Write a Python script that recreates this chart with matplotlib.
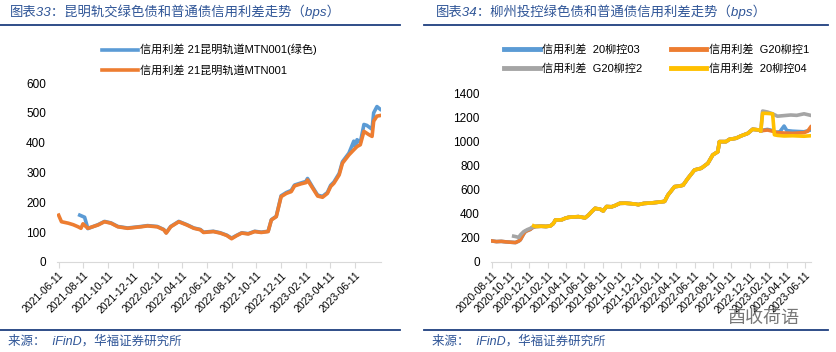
import matplotlib.pyplot as plt
import pandas as pd
from matplotlib.lines import Line2D

plt.rcParams['font.family'] = ['Liberation Sans', 'Noto Sans CJK SC', 'DejaVu Sans']

BLUE = '#5B9BD5'
ORANGE = '#ED7D31'
GRAY = '#A5A5A5'
YELLOW = '#FFC000'
NAVY = '#1F3F7F'
TITLE_C = '#2F5597'

# ---- chart 33: 昆明轨交 ----
km_plain_dates = ['2021-06-11', '2021-06-18', '2021-07-05', '2021-07-17', '2021-07-29', '2021-08-05',
                  '2021-08-10', '2021-08-22', '2021-09-16', '2021-10-02', '2021-10-18', '2021-11-04',
                  '2021-11-28', '2021-12-31', '2022-01-16', '2022-02-09', '2022-02-25', '2022-03-03',
                  '2022-03-14', '2022-04-03', '2022-04-23', '2022-05-10', '2022-05-26', '2022-06-03',
                  '2022-06-27', '2022-07-14', '2022-07-30', '2022-08-11', '2022-08-23', '2022-09-05',
                  '2022-09-21', '2022-10-07', '2022-10-23', '2022-11-09', '2022-11-17', '2022-11-29',
                  '2022-12-11', '2022-12-24', '2023-01-05', '2023-01-13', '2023-01-29', '2023-02-10',
                  '2023-02-14', '2023-02-27', '2023-03-11', '2023-03-23', '2023-04-04', '2023-04-12',
                  '2023-04-20', '2023-05-03', '2023-05-11', '2023-05-27', '2023-06-08', '2023-06-16',
                  '2023-06-24', '2023-07-03', '2023-07-15', '2023-07-23', '2023-07-27', '2023-08-04',
                  '2023-08-12']
km_plain_vals = [157, 135, 130, 125, 118, 113,
                 128, 113, 124, 135, 130, 118,
                 113, 118, 121, 118, 108, 97,
                 118, 135, 124, 113, 108, 99,
                 102, 97, 89, 78, 88, 97,
                 94, 102, 99, 102, 141, 152,
                 219, 230, 236, 255, 262, 266,
                 275, 247, 221, 217, 230, 253,
                 264, 292, 331, 359, 376, 387,
                 393, 438, 427, 421, 472, 489,
                 491]

km_green_dates = ['2021-08-02', '2021-08-14', '2021-08-22', '2021-09-16', '2021-10-02', '2021-10-18',
                  '2021-11-04', '2021-11-28', '2021-12-31', '2022-01-16', '2022-02-09', '2022-02-25',
                  '2022-03-03', '2022-03-14', '2022-04-03', '2022-04-23', '2022-05-10', '2022-05-26',
                  '2022-06-03', '2022-06-27', '2022-07-14', '2022-07-30', '2022-08-11', '2022-08-23',
                  '2022-09-05', '2022-09-21', '2022-10-07', '2022-10-23', '2022-11-09', '2022-11-17',
                  '2022-11-29', '2022-12-11', '2022-12-24', '2023-01-05', '2023-01-13', '2023-01-29',
                  '2023-02-10', '2023-02-14', '2023-02-27', '2023-03-11', '2023-03-23', '2023-04-04',
                  '2023-04-12', '2023-04-20', '2023-05-03', '2023-05-11', '2023-05-27', '2023-06-08',
                  '2023-06-12', '2023-06-16', '2023-06-24', '2023-07-03', '2023-07-10', '2023-07-23',
                  '2023-07-27', '2023-08-04', '2023-08-12']
km_green_vals = [157, 150, 112, 125, 136, 131,
                 119, 114, 119, 122, 119, 109,
                 98, 119, 136, 125, 114, 109,
                 100, 103, 98, 90, 80, 89,
                 98, 95, 103, 100, 103, 142,
                 153, 222, 233, 240, 258, 265,
                 270, 280, 250, 224, 220, 233,
                 257, 268, 297, 336, 365, 405,
                 385, 410, 400, 461, 458, 445,
                 500, 521, 512]

# ---- chart 34: 柳州投控 ----
lz_head_dates = ['2020-08-11', '2020-08-25', '2020-09-10', '2020-09-24', '2020-10-10', '2020-10-27',
                 '2020-11-07', '2020-11-12', '2020-11-23', '2020-11-29', '2020-12-15', '2020-12-21']
lz_head_vals = [175, 170, 172, 168, 165, 162, 175, 185, 235, 255, 272, 285]

lz_g2_head_dates = ['2020-10-21', '2020-10-27', '2020-11-07', '2020-11-12', '2020-11-23', '2020-12-05',
                    '2020-12-15', '2020-12-21']
lz_g2_head_vals = [215, 212, 205, 225, 253, 270, 280, 290]

lz_04_head_dates = ['2020-12-26']
lz_04_head_vals = [302]

lz_mid_dates = ['2021-01-01', '2021-01-20', '2021-02-05', '2021-02-19', '2021-03-01', '2021-03-08',
                '2021-03-29', '2021-04-10', '2021-04-20', '2021-05-05', '2021-05-23', '2021-06-14',
                '2021-06-25', '2021-07-06', '2021-07-17', '2021-08-03', '2021-08-13', '2021-08-24',
                '2021-09-10', '2021-09-21', '2021-10-07', '2021-10-25', '2021-11-10', '2021-11-26',
                '2021-12-07', '2021-12-25', '2022-01-19', '2022-02-10', '2022-03-04', '2022-03-15',
                '2022-04-06', '2022-04-20', '2022-05-04', '2022-05-20', '2022-06-11', '2022-07-03',
                '2022-07-25', '2022-08-10', '2022-08-27', '2022-09-01', '2022-09-23', '2022-10-04',
                '2022-10-26', '2022-11-11', '2022-12-04', '2022-12-20', '2023-01-11', '2023-01-16']
lz_mid_vals = [296, 298, 296, 300, 320, 350,
               352, 365, 372, 375, 378, 368,
               390, 420, 447, 440, 425, 462,
               460, 470, 489, 490, 487, 483,
               478, 488, 492, 498, 505, 558,
               628, 632, 640, 697, 767, 781,
               822, 892, 919, 1003, 1003, 1022,
               1031, 1050, 1072, 1106, 1100, 1090]

lz_03_tail_dates = ['2023-01-22', '2023-02-07', '2023-02-24', '2023-03-05', '2023-03-20', '2023-04-03',
                    '2023-04-12', '2023-05-01', '2023-06-08', '2023-06-30']
lz_03_tail_vals = [1098, 1105, 1095, 1080, 1085, 1133, 1095, 1090, 1085, 1100]

lz_g1_tail_dates = ['2023-01-22', '2023-02-07', '2023-02-24', '2023-03-12', '2023-04-03', '2023-05-01',
                    '2023-06-08', '2023-06-20', '2023-06-30']
lz_g1_tail_vals = [1095, 1100, 1090, 1078, 1075, 1072, 1078, 1090, 1125]

lz_g2_tail_dates = ['2023-01-22', '2023-02-07', '2023-02-24', '2023-03-12', '2023-04-03', '2023-04-25',
                    '2023-05-15', '2023-06-08', '2023-06-30']
lz_g2_tail_vals = [1258, 1250, 1235, 1215, 1220, 1225, 1222, 1235, 1222]

lz_04_tail_dates = ['2023-01-22', '2023-02-07', '2023-02-24', '2023-03-02', '2023-03-12', '2023-04-03',
                    '2023-05-01', '2023-06-08', '2023-06-30']
lz_04_tail_vals = [1240, 1238, 1235, 1060, 1055, 1050, 1052, 1048, 1052]

left_ticks = ['2021-06-11', '2021-08-11', '2021-10-11', '2021-12-11', '2022-02-11', '2022-04-11',
              '2022-06-11', '2022-08-11', '2022-10-11', '2022-12-11', '2023-02-11', '2023-04-11',
              '2023-06-11']
right_ticks = ['2020-08-11', '2020-10-11', '2020-12-11', '2021-02-11', '2021-04-11', '2021-06-11',
               '2021-08-11', '2021-10-11', '2021-12-11', '2022-02-11', '2022-04-11', '2022-06-11',
               '2022-08-11', '2022-10-11', '2022-12-11', '2023-02-11', '2023-04-11', '2023-06-11']


def series(*parts):
    dates, vals = [], []
    for d, v in parts:
        dates += d
        vals += v
    return pd.to_datetime(dates), vals


def style_axis(ax, ticks, ylim, ystep, xlim):
    ax.set_ylim(*ylim)
    ax.set_yticks(range(ylim[0], ylim[1] + 1, ystep))
    ax.set_xlim(pd.Timestamp(xlim[0]), pd.Timestamp(xlim[1]))
    ax.set_xticks(pd.to_datetime(ticks))
    ax.set_xticklabels(ticks, rotation=45, ha='right', rotation_mode='anchor', fontsize=7.5)
    for s in ['top', 'right', 'left']:
        ax.spines[s].set_visible(False)
    ax.spines['bottom'].set_color('#D9D9D9')
    ax.tick_params(axis='y', length=0, labelsize=8.5, pad=8)
    ax.tick_params(axis='x', length=4, color='#D9D9D9', pad=2)
    ax.patch.set_alpha(0)


fig = plt.figure(figsize=(8.36, 3.52), dpi=100)

# left panel
ax1 = fig.add_axes([57 / 836, 1 - 262 / 352, 324 / 836, 179 / 352])
d, v = series((km_green_dates, km_green_vals))
ax1.plot(d, v, color=BLUE, lw=2.6, label='信用利差 21昆明轨道MTN001(绿色)')
d, v = series((km_plain_dates, km_plain_vals))
ax1.plot(d, v, color=ORANGE, lw=2.6, label='信用利差 21昆明轨道MTN001')
style_axis(ax1, left_ticks, (0, 600), 100, ('2021-06-07', '2023-08-14'))
fig.legend(handles=ax1.get_lines(), loc='upper left', bbox_to_anchor=(92 / 836, 1 - 34 / 352),
           frameon=False, fontsize=8, handlelength=3.2, handletextpad=0.2, labelspacing=0.9)

# right panel
ax2 = fig.add_axes([491 / 836, 1 - 262 / 352, 320 / 836, 168 / 352])
d, v = series((lz_head_dates, lz_head_vals), (lz_mid_dates, lz_mid_vals), (lz_03_tail_dates, lz_03_tail_vals))
ax2.plot(d, v, color=BLUE, lw=2.6)
d, v = series((lz_head_dates, lz_head_vals), (lz_mid_dates, lz_mid_vals), (lz_g1_tail_dates, lz_g1_tail_vals))
ax2.plot(d, v, color=ORANGE, lw=2.6)
d, v = series((lz_g2_head_dates, lz_g2_head_vals), (lz_mid_dates, lz_mid_vals), (lz_g2_tail_dates, lz_g2_tail_vals))
ax2.plot(d, v, color=GRAY, lw=2.6)
d, v = series((lz_04_head_dates, lz_04_head_vals), (lz_mid_dates, lz_mid_vals), (lz_04_tail_dates, lz_04_tail_vals))
ax2.plot(d, v, color=YELLOW, lw=2.6)
style_axis(ax2, right_ticks, (0, 1400), 200, ('2020-08-07', '2023-07-01'))
handles = [Line2D([], [], color=BLUE, lw=3.5), Line2D([], [], color=ORANGE, lw=3.5),
           Line2D([], [], color=GRAY, lw=3.5), Line2D([], [], color=YELLOW, lw=3.5)]
labels = ['信用利差  20柳控03', '信用利差  G20柳控1', '信用利差  G20柳控2', '信用利差  20柳控04']
fig.legend([handles[0], handles[2], handles[1], handles[3]], [labels[0], labels[2], labels[1], labels[3]],
           ncol=2, loc='upper left', bbox_to_anchor=(494 / 836, 1 - 34 / 352), frameon=False,
           fontsize=8, handlelength=3.2, handletextpad=0.2, labelspacing=0.75, columnspacing=2.6)

# titles, rules and sources
fig.text(10 / 836, 1 - 12 / 352, '图表33：昆明轨交绿色债和普通债信用利差走势（bps）', color=TITLE_C,
         fontsize=9.6, style='italic', va='center')
fig.text(436 / 836, 1 - 12 / 352, '图表34：柳州投控绿色债和普通债信用利差走势（bps）', color=TITLE_C,
         fontsize=9.6, style='italic', va='center')
for x0, x1 in [(0, 400), (424, 828)]:
    fig.add_artist(Line2D([x0 / 836, x1 / 836], [1 - 25 / 352] * 2, color=NAVY, lw=1.3))
    fig.add_artist(Line2D([x0 / 836, x1 / 836], [1 - 330 / 352] * 2, color=NAVY, lw=1.3))
fig.text(8 / 836, 1 - 341 / 352, '来源：  iFinD，华福证券研究所', color=TITLE_C, fontsize=9,
         style='italic', va='center')
fig.text(432 / 836, 1 - 341 / 352, '来源：  iFinD，华福证券研究所', color=TITLE_C, fontsize=9,
         style='italic', va='center')
fig.text(728 / 836, 1 - 318 / 352, '酉收荷语', color='#555555', fontsize=13, va='center', alpha=0.8)

fig.savefig('out.png', dpi=100)
